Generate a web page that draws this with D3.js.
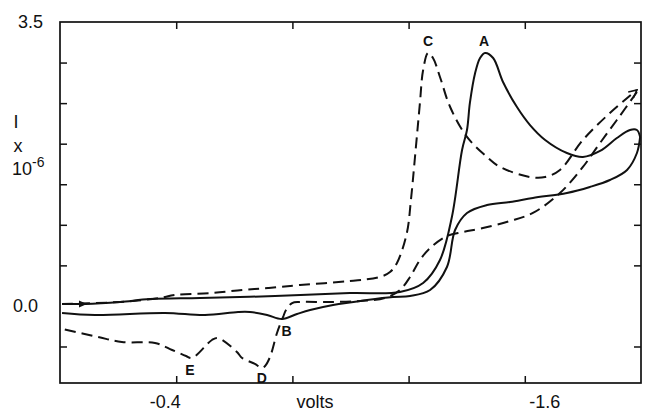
<!DOCTYPE html>
<html>
<head>
<meta charset="utf-8">
<script src="https://cdn.jsdelivr.net/npm/d3@7"></script>
<style>
  html, body { margin: 0; padding: 0; background: #fff; }
  svg { display: block; }
  text { font-family: "Liberation Sans", Arial, sans-serif; fill: #111; }
</style>
</head>
<body>
<svg id="chart" width="646" height="413"></svg>
<script>
// ---- data (volts, current in units of 10^-6 A) ----
const solidForward = [
  [-0.007, 0.024], [-0.086, 0.024], [-0.207, 0.049], [-0.310, 0.085], [-0.482, 0.098],
  [-0.740, 0.122], [-0.998, 0.159], [-1.170, 0.172], [-1.250, 0.283], [-1.308, 0.566],
  [-1.349, 1.096], [-1.384, 1.922], [-1.401, 2.169], [-1.411, 2.502], [-1.429, 2.871],
  [-1.446, 3.056], [-1.463, 3.118], [-1.491, 3.056], [-1.525, 2.760], [-1.573, 2.452],
  [-1.618, 2.230], [-1.670, 2.046], [-1.745, 1.885], [-1.800, 1.836], [-1.859, 1.910],
  [-1.917, 2.070], [-1.962, 2.169], [-1.986, 2.169], [-1.997, 2.083]
];
const solidReverse = [
  [-1.997, 2.083], [-1.986, 1.885], [-1.952, 1.676], [-1.893, 1.552], [-1.824, 1.466],
  [-1.745, 1.392], [-1.628, 1.331], [-1.549, 1.281], [-1.470, 1.244], [-1.401, 1.146],
  [-1.360, 0.936], [-1.332, 0.480], [-1.274, 0.196], [-1.205, 0.122], [-1.146, 0.110],
  [-1.057, 0.073], [-0.940, 0.012], [-0.861, -0.050], [-0.816, -0.099], [-0.764, -0.161],
  [-0.713, -0.112], [-0.654, -0.075], [-0.613, -0.075], [-0.499, -0.112], [-0.361, -0.087],
  [-0.120, -0.112], [-0.007, -0.087]
];
const dashedForward = [
  [-0.007, 0.024], [-0.207, 0.049], [-0.344, 0.098], [-0.396, 0.135], [-0.523, 0.159],
  [-0.627, 0.196], [-0.716, 0.221], [-0.826, 0.258], [-0.998, 0.307], [-1.102, 0.357],
  [-1.136, 0.418], [-1.160, 0.529], [-1.194, 0.899], [-1.208, 1.306], [-1.222, 1.836],
  [-1.239, 2.502], [-1.250, 2.908], [-1.267, 3.118], [-1.284, 3.056], [-1.308, 2.822],
  [-1.343, 2.452], [-1.401, 2.083], [-1.470, 1.836], [-1.515, 1.713], [-1.618, 1.589],
  [-1.670, 1.589], [-1.721, 1.676], [-1.800, 2.046], [-1.893, 2.378], [-1.986, 2.662]
];
const dashedReverse = [
  [-1.986, 2.637], [-1.917, 2.292], [-1.859, 2.009], [-1.800, 1.713], [-1.721, 1.392],
  [-1.628, 1.146], [-1.549, 1.047], [-1.456, 0.960], [-1.387, 0.911], [-1.332, 0.862],
  [-1.274, 0.714], [-1.239, 0.566], [-1.205, 0.357], [-1.170, 0.196], [-1.119, 0.098],
  [-1.033, 0.061], [-0.929, 0.049], [-0.826, 0.049], [-0.799, 0.036], [-0.778, -0.050],
  [-0.768, -0.136], [-0.747, -0.334], [-0.723, -0.629], [-0.706, -0.740], [-0.695, -0.765],
  [-0.671, -0.715], [-0.627, -0.642], [-0.609, -0.568], [-0.544, -0.395], [-0.523, -0.420],
  [-0.454, -0.642], [-0.434, -0.617], [-0.386, -0.543], [-0.327, -0.457], [-0.213, -0.445],
  [-0.131, -0.383], [-0.007, -0.284]
];
const peakLabels = [
  { name: "C", v: -1.267, i: 3.25 },
  { name: "A", v: -1.460, i: 3.25 },
  { name: "B", v: -0.780, i: -0.32 },
  { name: "E", v: -0.447, i: -0.80 },
  { name: "D", v: -0.695, i: -0.90 }
];
const xTicks = [-0.4, -0.8, -1.2, -1.6];
const xTickLabels = [{ v: -0.4, text: "-0.4" }, { v: -1.6, text: "-1.6" }];
const yTicks = [-0.5, 0.5, 1.0, 1.5, 2.0, 2.5, 3.0];
const yTickLabels = [{ v: 3.5, text: "3.5" }, { v: 0.0, text: "0.0" }];

// ---- drawing ----
const svg = d3.select("#chart");
const x = d3.scaleLinear().domain([0, -2]).range([60, 641]);
const y = d3.scaleLinear().domain([-0.95, 3.5]).range([383, 22]);
const ink = "#111";

svg.append("defs").append("marker")
  .attr("id", "arrow").attr("viewBox", "0 0 10 10")
  .attr("refX", 9).attr("refY", 5)
  .attr("markerWidth", 5).attr("markerHeight", 5)
  .attr("orient", "auto")
  .append("path").attr("d", "M1,1 L9,5 L1,9").attr("fill", "none")
  .attr("stroke", ink).attr("stroke-width", 1.6);

// ticks (inward)
const g = svg.append("g");
g.append("g").attr("transform", `translate(0,${y.range()[0]})`)
  .call(d3.axisBottom(x).tickValues(xTicks).tickSize(-7).tickFormat(""))
  .call(s => s.select(".domain").remove());
g.append("g").attr("transform", `translate(0,${y.range()[1]})`)
  .call(d3.axisTop(x).tickValues(xTicks).tickSize(-7).tickFormat(""))
  .call(s => s.select(".domain").remove());
g.append("g").attr("transform", `translate(${x.range()[0]},0)`)
  .call(d3.axisLeft(y).tickValues(yTicks).tickSize(-7).tickFormat(""))
  .call(s => s.select(".domain").remove());
g.append("g").attr("transform", `translate(${x.range()[1]},0)`)
  .call(d3.axisRight(y).tickValues(yTicks).tickSize(-7).tickFormat(""))
  .call(s => s.select(".domain").remove());
g.selectAll(".tick line").attr("stroke", ink).attr("stroke-width", 1.5);

// frame
svg.append("rect")
  .attr("x", x.range()[0]).attr("y", y.range()[1])
  .attr("width", x.range()[1] - x.range()[0])
  .attr("height", y.range()[0] - y.range()[1])
  .attr("fill", "none").attr("stroke", ink).attr("stroke-width", 1.7);

// curves
const line = d3.line().x(d => x(d[0])).y(d => y(d[1])).curve(d3.curveCatmullRom.alpha(0.5));
const curves = [
  { data: solidForward, dash: null },
  { data: solidReverse, dash: null },
  { data: dashedForward, dash: "11,6", arrow: true },
  { data: dashedReverse, dash: "11,6" }
];
curves.forEach(c => {
  const p = svg.append("path").datum(c.data)
    .attr("d", line).attr("fill", "none")
    .attr("stroke", ink).attr("stroke-width", 2)
    .attr("stroke-linejoin", "round");
  if (c.dash) p.attr("stroke-dasharray", c.dash);
  if (c.arrow) p.attr("marker-end", "url(#arrow)");
});

// small direction arrow on the solid forward trace
const ap = solidForward[1];
svg.append("path")
  .attr("d", `M${x(ap[0]) - 6},${y(ap[1]) - 3.5} L${x(ap[0]) + 2},${y(ap[1])} L${x(ap[0]) - 6},${y(ap[1]) + 3.5} Z`)
  .attr("fill", ink);

// peak letters
svg.selectAll(".peak").data(peakLabels).enter().append("text")
  .attr("class", "peak")
  .attr("x", d => x(d.v)).attr("y", d => y(d.i))
  .attr("text-anchor", "middle").attr("dominant-baseline", "middle")
  .attr("font-size", 14).attr("font-weight", "bold")
  .text(d => d.name);

// axis labels
const xLabelShift = { "-0.4": -11, "-1.6": 20 };
svg.selectAll(".xl").data(xTickLabels).enter().append("text")
  .attr("x", d => x(d.v) + xLabelShift[d.text]).attr("y", 408)
  .attr("text-anchor", "middle").attr("font-size", 18)
  .text(d => d.text);
const yLabelEnd = { "3.5": 43, "0.0": 38 };
svg.selectAll(".yl").data(yTickLabels).enter().append("text")
  .attr("x", d => yLabelEnd[d.text]).attr("y", d => y(d.v) + 6)
  .attr("text-anchor", "end").attr("font-size", 18)
  .text(d => d.text);

svg.append("text").attr("x", 315).attr("y", 408).attr("text-anchor", "middle")
  .attr("font-size", 18).text("volts");
svg.append("text").attr("x", 16).attr("y", 128).attr("text-anchor", "middle")
  .attr("font-size", 18).text("I");
svg.append("text").attr("x", 18).attr("y", 152).attr("text-anchor", "middle")
  .attr("font-size", 18).text("x");
const t = svg.append("text").attr("x", 12).attr("y", 175).attr("font-size", 18);
t.append("tspan").text("10");
t.append("tspan").attr("dy", -8).attr("font-size", 14).text("-6");
</script>
</body>
</html>
